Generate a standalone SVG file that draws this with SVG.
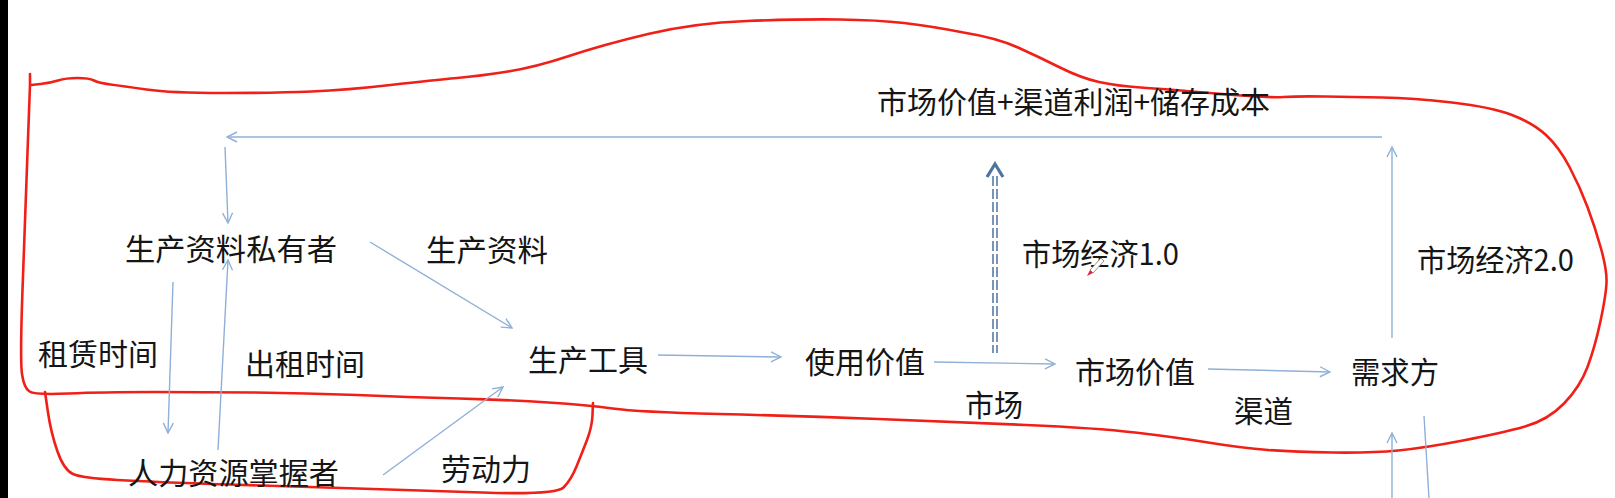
<svg xmlns="http://www.w3.org/2000/svg" width="1615" height="498" viewBox="0 0 1615 498">
<defs>
<style>
text{font-family:"Noto Sans CJK SC","Noto Sans",sans-serif;font-size:30px;fill:#151515}
.c{fill:none;stroke:#8FB0D8;stroke-width:1.4}
.red{fill:none;stroke:#F02018;stroke-width:2.6;stroke-linejoin:round;stroke-linecap:round}
.dash{fill:none;stroke:#4D73A0;stroke-width:1.5;stroke-dasharray:10 3}
</style>
<marker id="ah" markerUnits="userSpaceOnUse" viewBox="0 0 12 12" refX="11" refY="6" markerWidth="12" markerHeight="12" orient="auto">
<path d="M1,1 L11,6 L1,11" fill="none" stroke="#8FB0D8" stroke-width="1.4"/>
</marker>
</defs>
<rect x="0" y="0" width="1615" height="498" fill="#fff"/>
<rect x="0" y="0" width="8" height="498" fill="#000"/>

<g id="outline">
<path class="red" d="M30,74 L30,85 L27.5,152.5 Q25,220 22.5,290 Q20,360 22,374 Q24,388 29.5,391.5 Q35,395 68.5,393.5 Q102,392 153,392 Q204,392 255,392.5 Q306,393 357,395 Q408,397 459,398.5 Q510,400 548.5,402.5 Q587,405 612.5,408.5 Q638,412 719,414 Q800,416 878,419 Q956,422 1026,425 Q1096,428 1135,432.5 Q1174,437 1208,442.5 Q1242,448 1268,450 Q1294,452 1333,452.5 Q1372,453 1398,450.5 Q1424,448 1463,440.5 Q1502,433 1525,426.5 Q1548,420 1564,403.5 Q1580,387 1587.5,367 Q1595,347 1600.5,321 Q1606,295 1606.5,282.5 Q1607,270 1601,248.5 Q1595,227 1587.5,207 Q1580,187 1569.5,167 Q1559,147 1546,135 Q1533,123 1512,115 Q1491,107 1452,102.5 Q1413,98 1382,97.5 Q1351,97 1325,96.5 Q1299,96 1283.5,97 Q1268,98 1216,93.5 Q1164,89 1140.5,87.5 Q1117,86 1099,82 Q1081,78 1060,67.5 Q1039,57 1018,47.5 Q997,38 963.5,32.5 Q930,26 904,23 Q878,20 839,19.5 Q800,19 747,21 Q694,23 648,34 Q602,45 569,56 Q536,67 508,71.5 Q480,76 457,78 Q434,80 390.5,85 Q347,90 311.5,91.5 Q276,93 223.5,93 Q171,93 146.5,89.5 Q122,86 110.5,84.5 Q99,83 94,80.5 Q89,78 77.5,78 Q66,78 58,80.5 Q50,83 40.5,84 L31,85"/>
<path class="red" d="M45,392 L48,412.5 Q51,433 57.5,451.5 Q64,470 73,474 Q82,478 117.5,480 Q153,482 229.5,484.5 Q306,487 357,488.5 Q408,490 482,492.5 Q556,495 563.5,487.5 Q571,480 576.5,466.5 Q582,453 587,440 Q592,427 592.5,415 L593,403"/>
</g>

<g id="connectors">
<path class="c" d="M1382,137 L227,137" marker-end="url(#ah)"/>
<path class="c" d="M225,147 L228,223" marker-end="url(#ah)"/>
<path class="c" d="M370,242 L512,328" marker-end="url(#ah)"/>
<path class="c" d="M173,282 L168,433" marker-end="url(#ah)"/>
<path class="c" d="M218,450 L228,260" marker-end="url(#ah)"/>
<path class="c" d="M383,475 L503,387" marker-end="url(#ah)"/>
<path class="c" d="M658,355 L781,357" marker-end="url(#ah)"/>
<path class="c" d="M934,362 L1055,364" marker-end="url(#ah)"/>
<path class="c" d="M1208,369 L1330,372" marker-end="url(#ah)"/>
<path class="c" d="M1392,338 L1392,147" marker-end="url(#ah)"/>
<path class="c" d="M1392,498 L1392,433" marker-end="url(#ah)"/>
<path class="c" d="M1424,416 L1429,498"/>
<line class="dash" x1="993" y1="176" x2="993" y2="353"/>
<line class="dash" x1="997" y1="176" x2="997" y2="353"/>
<path d="M987,177 L995,164 L1003,177" fill="none" stroke="#4D73A0" stroke-width="3.2" stroke-linejoin="miter"/>
</g>

<g id="n-top"><text x="877" y="113" textLength="393" lengthAdjust="spacingAndGlyphs">市场价值+渠道利润+储存成本</text></g>
<g id="n-owner"><text x="125" y="260" textLength="212" lengthAdjust="spacingAndGlyphs">生产资料私有者</text></g>
<g id="l-ziliao"><text x="426" y="261" textLength="122" lengthAdjust="spacingAndGlyphs">生产资料</text></g>
<g id="l-zulin"><text x="38" y="365" textLength="120" lengthAdjust="spacingAndGlyphs">租赁时间</text></g>
<g id="l-chuzu"><text x="245" y="375" textLength="120" lengthAdjust="spacingAndGlyphs">出租时间</text></g>
<g id="n-tool"><text x="528" y="371" textLength="120" lengthAdjust="spacingAndGlyphs">生产工具</text></g>
<g id="n-hr"><text x="128" y="484" textLength="211" lengthAdjust="spacingAndGlyphs">人力资源掌握者</text></g>
<g id="l-labor"><text x="441" y="480" textLength="90" lengthAdjust="spacingAndGlyphs">劳动力</text></g>
<g id="n-use"><text x="805" y="373" textLength="120" lengthAdjust="spacingAndGlyphs">使用价值</text></g>
<g id="n-market"><text x="1075" y="383" textLength="120" lengthAdjust="spacingAndGlyphs">市场价值</text></g>
<g id="n-demand"><text x="1351" y="383" textLength="88" lengthAdjust="spacingAndGlyphs">需求方</text></g>
<g id="l-shichang"><text x="965" y="416" textLength="58" lengthAdjust="spacingAndGlyphs">市场</text></g>
<g id="l-qudao"><text x="1234" y="422" textLength="59" lengthAdjust="spacingAndGlyphs">渠道</text></g>
<g id="l-me1"><text x="1022" y="265" textLength="157" lengthAdjust="spacingAndGlyphs">市场经济1.0</text></g>
<g id="l-me2"><text x="1417" y="271" textLength="157" lengthAdjust="spacingAndGlyphs">市场经济2.0</text></g>

<g id="pen">
<path d="M1090,270 L1101,258 L1104,261 L1093,273 Z" fill="#fff" stroke="#777" stroke-width="0.8"/>
<path d="M1090,270 L1093,273 L1087,276 Z" fill="#E8204A"/>
</g>
</svg>
